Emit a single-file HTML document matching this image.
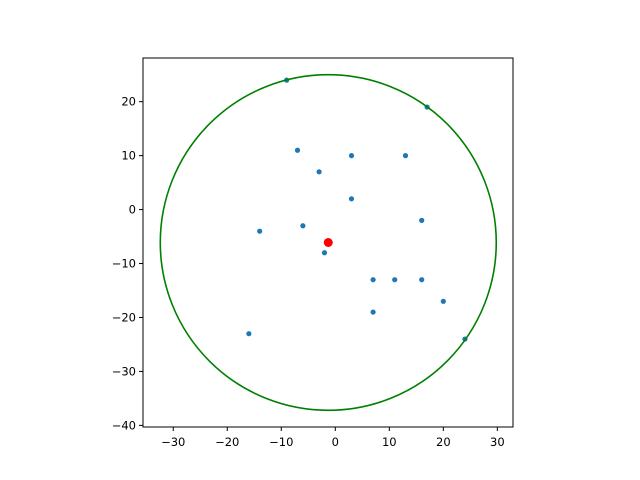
<!DOCTYPE html>
<html><head><meta charset="utf-8"><style>body{margin:0;background:#fff}svg{display:block;font-family:"DejaVu Sans","Liberation Sans",sans-serif}</style></head>
<body>
<svg id="chart" width="640" height="480"></svg>
<script>
const xs=[-9,17,-7,3,13,-3,3,16,-14,-6,-2,7,11,16,20,7,-16,24];
const ys=[24,19,11,10,10,7,2,-2,-4,-3,-8,-13,-13,-13,-17,-19,-23,-24];
const center=[-1.3,-6.1];
const radius=31.1;
const xTicks=[-30,-20,-10,0,10,20,30];
const yTicks=[20,10,0,-10,-20,-30,-40];
const L=143,R=513,T=58,B=427,x0=-35.6,x1=32.9,y0=-40.3,y1=28.1;
const sx=v=>L+(v-x0)/(x1-x0)*(R-L);
const sy=v=>B-(v-y0)/(y1-y0)*(B-T);
const svg=document.getElementById('chart');
const NS='http://www.w3.org/2000/svg';
function mk(t,a){const e=document.createElementNS(NS,t);for(const k in a)e.setAttribute(k,a[k]);svg.appendChild(e);return e;}
const frame=mk('rect',{x:L,y:T,width:R-L,height:B-T,fill:'none',stroke:'#000','stroke-width':1});


xTicks.forEach(v=>{const x=sx(v);
 const l=mk('line',{x1:x,x2:x,y1:B,y2:B+4,stroke:'#000'});
 
 
 const t=mk('text',{x:x,y:B+19,'text-anchor':'middle','font-size':11.5});t.textContent=v<0?'\u2212'+(-v):v;
 
 });
yTicks.forEach(v=>{const y=sy(v);
 const l=mk('line',{x1:L-4,x2:L,y1:y,y2:y,stroke:'#000'});
 
 
 const t=mk('text',{x:L-7,y:y+4,'text-anchor':'end','font-size':11.5});t.textContent=v<0?'\u2212'+(-v):v;
 
 });
xs.forEach((v,i)=>{const c=mk('circle',{cx:sx(v),cy:sy(ys[i]),r:2.6,fill:'#1f77b4'});
 
 });
const circ=mk('ellipse',{cx:sx(center[0]),cy:sy(center[1]),rx:sx(center[0]+radius)-sx(center[0]),ry:sy(center[1])-sy(center[1]+radius),fill:'none',stroke:'green','stroke-width':1.6});


const cc=mk('circle',{cx:sx(center[0]),cy:sy(center[1]),r:4.5,fill:'red'});


</script>
</body></html>
